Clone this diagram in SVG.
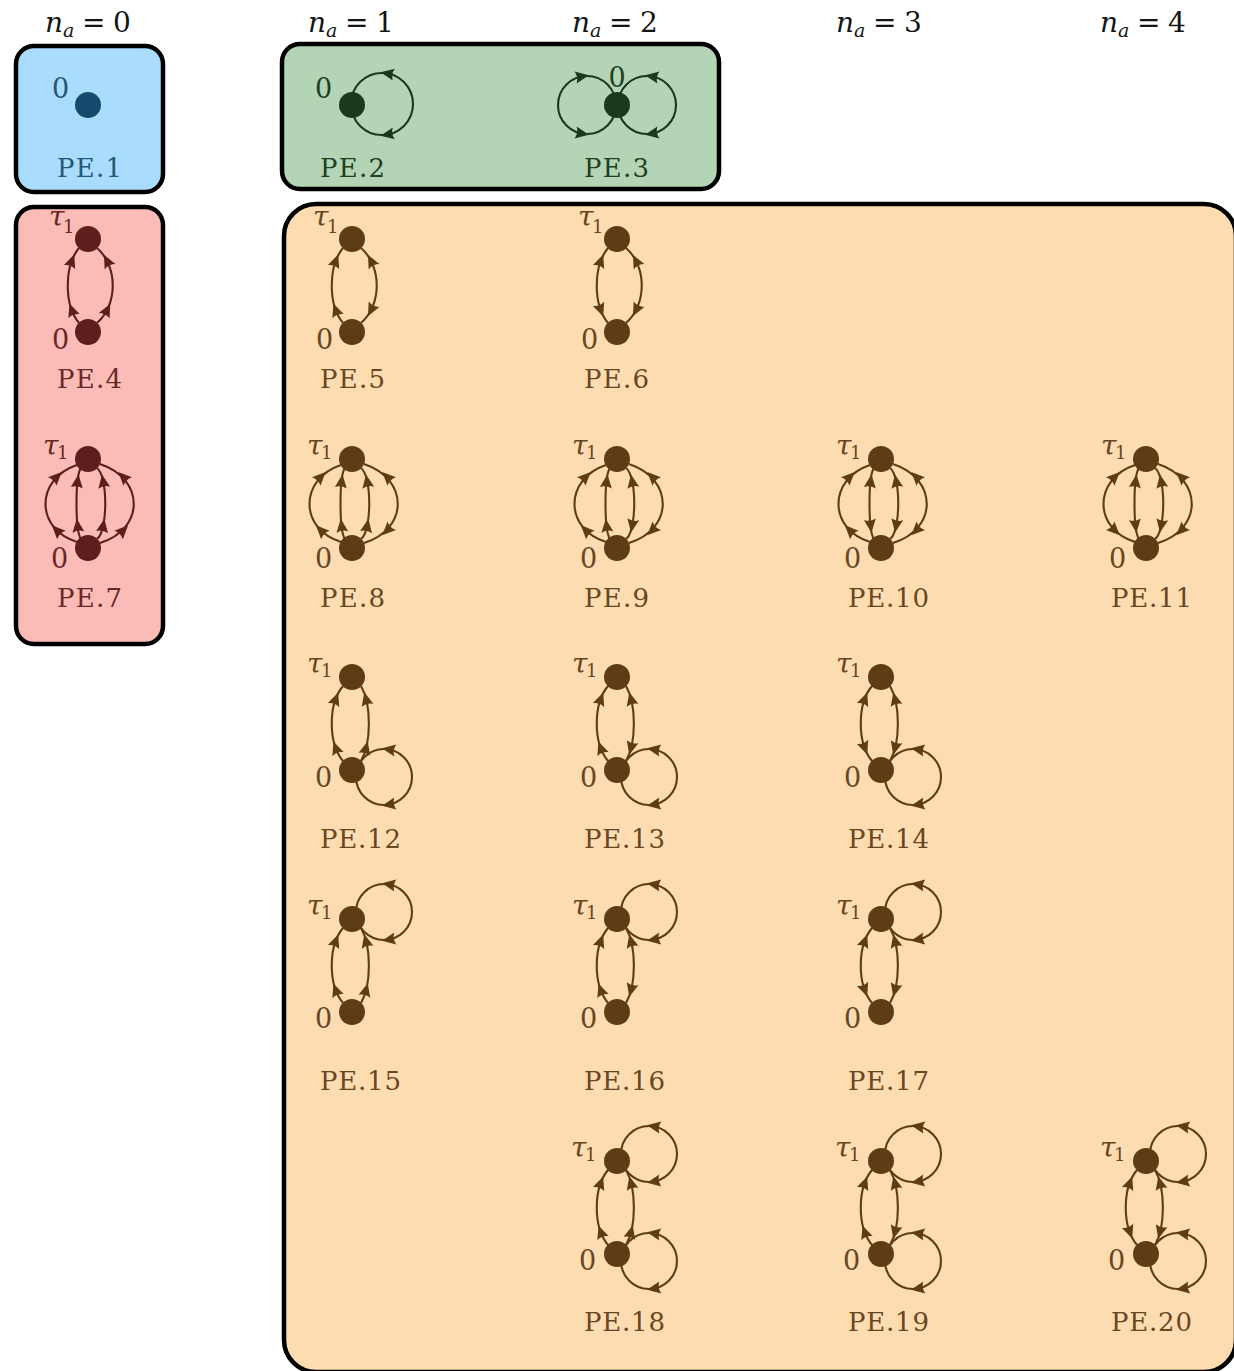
<svg xmlns="http://www.w3.org/2000/svg" xmlns:xlink="http://www.w3.org/1999/xlink" width="1234" height="1371" viewBox="0 0 1234 1371" font-family="DejaVu Serif, Liberation Serif, serif">
  <style>
    .box{stroke:#000;stroke-width:4.5}
    .edge{fill:none;stroke:currentColor;stroke-width:2.1}
    .ahd{fill:currentColor}
    .vx{fill:currentColor}
    .c-blue{color:#174b6d}
    .c-green{color:#1b3a1b}
    .c-pink{color:#5e1e1b}
    .c-org{color:#5e3c15}
    .c-blue text{fill:#255776}
    .c-green text{fill:#213f21}
    .c-pink text{fill:#682824}
    .c-org text{fill:#694622}
    text{font-family:"DejaVu Serif","Liberation Serif",serif}
    .pe{font-size:26px}
    .zero{font-size:27px}
    .tau{font-size:28px;font-style:italic}
    .s1{font-size:18px}
    .hdr text{font-size:28px;fill:#151515}
    .it{font-style:italic}
    .sub{font-size:19px}
  </style>
  <defs>
    <!-- arrowhead pointing along +x, centred on its anchor point -->
    <path id="ah" class="ahd" d="M7,0 L-6.5,-6 Q-3.5,0 -6.5,6 Z"/>

    <!-- two-edge graphs: tau1 at (0,0), 0 at (0,93) -->
    <g id="Ln"><path class="edge" d="M-9,84 C-24,66 -24,27 -9,9"/><use xlink:href="#ah" transform="translate(-16.2,71) rotate(-110)"/><use xlink:href="#ah" transform="translate(-16.2,22) rotate(-70)"/></g>
    <g id="La"><path class="edge" d="M-9,84 C-24,66 -24,27 -9,9"/><use xlink:href="#ah" transform="translate(-16.2,22) rotate(-70)"/><use xlink:href="#ah" transform="translate(-16.2,71) rotate(70)"/></g>
    <g id="R1n"><path class="edge" d="M9,84 C30,66 30,27 9,9"/><use xlink:href="#ah" transform="translate(19.1,71) rotate(-63)"/><use xlink:href="#ah" transform="translate(19.1,22) rotate(-117)"/></g>
    <g id="R1a"><path class="edge" d="M9,84 C30,66 30,27 9,9"/><use xlink:href="#ah" transform="translate(19.1,22) rotate(-117)"/><use xlink:href="#ah" transform="translate(19.1,71) rotate(117)"/></g>
    <g id="R3n"><path class="edge" d="M9,84 C19.5,66 19.5,27 9,9"/><use xlink:href="#ah" transform="translate(14,71) rotate(-76)"/><use xlink:href="#ah" transform="translate(14,22) rotate(-104)"/></g>
    <g id="R3a"><path class="edge" d="M9,84 C19.5,66 19.5,27 9,9"/><use xlink:href="#ah" transform="translate(14,22) rotate(-104)"/><use xlink:href="#ah" transform="translate(14,71) rotate(104)"/></g>
    <g id="loopT"><circle class="edge" cx="32" cy="-7" r="28"/><use xlink:href="#ah" transform="translate(36.9,-34.6) rotate(-170)"/><use xlink:href="#ah" transform="translate(36.9,20.6) rotate(170)"/></g>
    <g id="loopB"><circle class="edge" cx="32" cy="100" r="28"/><use xlink:href="#ah" transform="translate(36.9,72.4) rotate(-170)"/><use xlink:href="#ah" transform="translate(36.9,127.6) rotate(170)"/></g>

    <!-- four-edge graphs: tau1 at (0,0), 0 at (0,89) -->
    <g id="OLn"><path class="edge" d="M-11,83 C-53,70 -53,20 -11,6"/><use xlink:href="#ah" transform="translate(-31.2,71.3) rotate(-135)"/><use xlink:href="#ah" transform="translate(-31.2,18) rotate(-45)"/></g>
    <g id="OLa"><path class="edge" d="M-11,83 C-53,70 -53,20 -11,6"/><use xlink:href="#ah" transform="translate(-31.2,18) rotate(-45)"/><use xlink:href="#ah" transform="translate(-31.2,71.3) rotate(45)"/></g>
    <g id="ILn"><path class="edge" d="M-7,80 C-13,72 -13,17 -7,9"/><use xlink:href="#ah" transform="translate(-10.4,66.7) rotate(-97)"/><use xlink:href="#ah" transform="translate(-10.4,22.3) rotate(-83)"/></g>
    <g id="ILa"><path class="edge" d="M-7,80 C-13,72 -13,17 -7,9"/><use xlink:href="#ah" transform="translate(-10.4,22.3) rotate(-83)"/><use xlink:href="#ah" transform="translate(-10.4,66.7) rotate(83)"/></g>
    <g id="IRn"><path class="edge" d="M9,80 C20,72 20,17 9,9"/><use xlink:href="#ah" transform="translate(15.2,66.7) rotate(-80)"/><use xlink:href="#ah" transform="translate(15.2,22.3) rotate(-100)"/></g>
    <g id="IRa"><path class="edge" d="M9,80 C20,72 20,17 9,9"/><use xlink:href="#ah" transform="translate(15.2,22.3) rotate(-100)"/><use xlink:href="#ah" transform="translate(15.2,66.7) rotate(100)"/></g>
    <g id="ORn"><path class="edge" d="M12,84 C57,70 57,20 12,5"/><use xlink:href="#ah" transform="translate(35.2,71.3) rotate(-45)"/><use xlink:href="#ah" transform="translate(35.2,18) rotate(-135)"/></g>
    <g id="ORa"><path class="edge" d="M12,84 C57,70 57,20 12,5"/><use xlink:href="#ah" transform="translate(35.2,18) rotate(-135)"/><use xlink:href="#ah" transform="translate(35.2,71.3) rotate(135)"/></g>

    <!-- vertex pairs -->
    <g id="V2"><circle class="vx" r="13"/><circle class="vx" cy="93" r="13"/></g>
    <g id="V4"><circle class="vx" r="13"/><circle class="vx" cy="89" r="13"/></g>
  </defs>

  <!-- column headers -->
  <g id="headers" class="hdr">
    <text x="45" y="32"><tspan class="it">n</tspan><tspan class="it sub" dy="5">a</tspan><tspan x="82" dy="-5">=</tspan><tspan x="113">0</tspan></text>
    <g transform="translate(263,0)"><text x="45" y="32"><tspan class="it">n</tspan><tspan class="it sub" dy="5">a</tspan><tspan x="82" dy="-5">=</tspan><tspan x="113">1</tspan></text></g>
    <g transform="translate(527,0)"><text x="45" y="32"><tspan class="it">n</tspan><tspan class="it sub" dy="5">a</tspan><tspan x="82" dy="-5">=</tspan><tspan x="113">2</tspan></text></g>
    <g transform="translate(791,0)"><text x="45" y="32"><tspan class="it">n</tspan><tspan class="it sub" dy="5">a</tspan><tspan x="82" dy="-5">=</tspan><tspan x="113">3</tspan></text></g>
    <g transform="translate(1055,0)"><text x="45" y="32"><tspan class="it">n</tspan><tspan class="it sub" dy="5">a</tspan><tspan x="82" dy="-5">=</tspan><tspan x="113">4</tspan></text></g>
  </g>

  <!-- grouping boxes -->
  <g id="boxes">
    <rect class="box" x="16" y="46" width="147" height="146" rx="18" fill="#a9dcfd"/>
    <rect class="box" x="282" y="44" width="437" height="145" rx="18" fill="#b3d4b5"/>
    <rect class="box" x="16" y="207" width="147" height="437" rx="18" fill="#fbbcb8"/>
    <rect class="box" x="284" y="204" width="952" height="1168" rx="32" fill="#fddcb1"/>
  </g>

  <!-- PE.1 -->
  <g id="pe1" class="c-blue">
    <circle class="vx" cx="88" cy="105" r="13"/>
    <text class="zero" x="52" y="98">0</text>
    <text class="pe" x="57" y="177" textLength="65">PE.1</text>
  </g>

  <!-- PE.2 -->
  <g id="pe2" class="c-green">
    <g transform="translate(352,105)">
      <g class="connectors"><circle class="edge" cx="30" cy="-1" r="31"/><use xlink:href="#ah" transform="translate(35.4,-31.5) rotate(-170)"/><use xlink:href="#ah" transform="translate(35.4,29.5) rotate(170)"/></g>
      <circle class="vx" r="13"/>
      <text class="zero" x="-37" y="-7">0</text>
    </g>
    <text class="pe" x="320" y="177" textLength="65">PE.2</text>
  </g>

  <!-- PE.3 -->
  <g id="pe3" class="c-green">
    <g transform="translate(617,105)">
      <g class="connectors">
        <circle class="edge" cx="30" cy="0" r="29"/><use xlink:href="#ah" transform="translate(35,-28.6) rotate(-170)"/><use xlink:href="#ah" transform="translate(35,28.6) rotate(170)"/>
        <circle class="edge" cx="-30" cy="0" r="29"/><use xlink:href="#ah" transform="translate(-35,-28.6) rotate(-10)"/><use xlink:href="#ah" transform="translate(-35,28.6) rotate(10)"/>
      </g>
      <circle class="vx" r="13"/>
      <text class="zero" x="0" y="-18" text-anchor="middle">0</text>
    </g>
    <text class="pe" x="584" y="177" textLength="65">PE.3</text>
  </g>

  <!-- row 1 -->
  <g id="pe4" class="c-pink">
    <g transform="translate(88,239)">
      <g class="connectors"><use xlink:href="#Ln"/><use xlink:href="#R1n"/></g>
      <use xlink:href="#V2"/>
      <text class="tau" x="-39" y="-13">τ</text><text class="s1" x="-25" y="-6">1</text>
      <text class="zero" x="-36" y="110">0</text>
    </g>
    <text class="pe" x="57" y="388" textLength="65">PE.4</text>
  </g>
  <g id="pe5" class="c-org">
    <g transform="translate(352,239)">
      <g class="connectors"><use xlink:href="#Ln"/><use xlink:href="#R1a"/></g>
      <use xlink:href="#V2"/>
      <text class="tau" x="-39" y="-13">τ</text><text class="s1" x="-25" y="-6">1</text>
      <text class="zero" x="-36" y="110">0</text>
    </g>
    <text class="pe" x="320" y="388" textLength="65">PE.5</text>
  </g>
  <g id="pe6" class="c-org">
    <g transform="translate(617,239)">
      <g class="connectors"><use xlink:href="#La"/><use xlink:href="#R1a"/></g>
      <use xlink:href="#V2"/>
      <text class="tau" x="-39" y="-13">τ</text><text class="s1" x="-25" y="-6">1</text>
      <text class="zero" x="-36" y="110">0</text>
    </g>
    <text class="pe" x="584" y="388" textLength="65">PE.6</text>
  </g>

  <!-- row 2 -->
  <g id="pe7" class="c-pink">
    <g transform="translate(88,459)">
      <g class="connectors"><use xlink:href="#OLn"/><use xlink:href="#ILn"/><use xlink:href="#IRn"/><use xlink:href="#ORn"/></g>
      <use xlink:href="#V4"/>
      <text class="tau" x="-45" y="-4">τ</text><text class="s1" x="-31" y="0">1</text>
      <text class="zero" x="-37" y="109">0</text>
    </g>
    <text class="pe" x="57" y="607" textLength="65">PE.7</text>
  </g>
  <g id="pe8" class="c-org">
    <g transform="translate(352,459)">
      <g class="connectors"><use xlink:href="#OLn"/><use xlink:href="#ILn"/><use xlink:href="#IRn"/><use xlink:href="#ORa"/></g>
      <use xlink:href="#V4"/>
      <text class="tau" x="-45" y="-4">τ</text><text class="s1" x="-31" y="0">1</text>
      <text class="zero" x="-37" y="109">0</text>
    </g>
    <text class="pe" x="320" y="607" textLength="65">PE.8</text>
  </g>
  <g id="pe9" class="c-org">
    <g transform="translate(617,459)">
      <g class="connectors"><use xlink:href="#OLn"/><use xlink:href="#ILn"/><use xlink:href="#IRa"/><use xlink:href="#ORa"/></g>
      <use xlink:href="#V4"/>
      <text class="tau" x="-45" y="-4">τ</text><text class="s1" x="-31" y="0">1</text>
      <text class="zero" x="-37" y="109">0</text>
    </g>
    <text class="pe" x="584" y="607" textLength="65">PE.9</text>
  </g>
  <g id="pe10" class="c-org">
    <g transform="translate(881,459)">
      <g class="connectors"><use xlink:href="#OLn"/><use xlink:href="#ILa"/><use xlink:href="#IRa"/><use xlink:href="#ORa"/></g>
      <use xlink:href="#V4"/>
      <text class="tau" x="-45" y="-4">τ</text><text class="s1" x="-31" y="0">1</text>
      <text class="zero" x="-37" y="109">0</text>
    </g>
    <text class="pe" x="848" y="607" textLength="81">PE.10</text>
  </g>
  <g id="pe11" class="c-org">
    <g transform="translate(1146,459)">
      <g class="connectors"><use xlink:href="#OLa"/><use xlink:href="#ILa"/><use xlink:href="#IRa"/><use xlink:href="#ORa"/></g>
      <use xlink:href="#V4"/>
      <text class="tau" x="-45" y="-4">τ</text><text class="s1" x="-31" y="0">1</text>
      <text class="zero" x="-37" y="109">0</text>
    </g>
    <text class="pe" x="1111" y="607" textLength="81">PE.11</text>
  </g>

  <!-- row 3 -->
  <g id="pe12" class="c-org">
    <g transform="translate(352,677)">
      <g class="connectors"><use xlink:href="#Ln"/><use xlink:href="#R3n"/><use xlink:href="#loopB"/></g>
      <use xlink:href="#V2"/>
      <text class="tau" x="-45" y="-4">τ</text><text class="s1" x="-31" y="0">1</text>
      <text class="zero" x="-37" y="110">0</text>
    </g>
    <text class="pe" x="320" y="848" textLength="81">PE.12</text>
  </g>
  <g id="pe13" class="c-org">
    <g transform="translate(617,677)">
      <g class="connectors"><use xlink:href="#Ln"/><use xlink:href="#R3a"/><use xlink:href="#loopB"/></g>
      <use xlink:href="#V2"/>
      <text class="tau" x="-45" y="-4">τ</text><text class="s1" x="-31" y="0">1</text>
      <text class="zero" x="-37" y="110">0</text>
    </g>
    <text class="pe" x="584" y="848" textLength="81">PE.13</text>
  </g>
  <g id="pe14" class="c-org">
    <g transform="translate(881,677)">
      <g class="connectors"><use xlink:href="#La"/><use xlink:href="#R3a"/><use xlink:href="#loopB"/></g>
      <use xlink:href="#V2"/>
      <text class="tau" x="-45" y="-4">τ</text><text class="s1" x="-31" y="0">1</text>
      <text class="zero" x="-37" y="110">0</text>
    </g>
    <text class="pe" x="848" y="848" textLength="81">PE.14</text>
  </g>

  <!-- row 4 -->
  <g id="pe15" class="c-org">
    <g transform="translate(352,919)">
      <g class="connectors"><use xlink:href="#Ln"/><use xlink:href="#R3n"/><use xlink:href="#loopT"/></g>
      <use xlink:href="#V2"/>
      <text class="tau" x="-45" y="-4">τ</text><text class="s1" x="-31" y="0">1</text>
      <text class="zero" x="-37" y="109">0</text>
    </g>
    <text class="pe" x="320" y="1090" textLength="81">PE.15</text>
  </g>
  <g id="pe16" class="c-org">
    <g transform="translate(617,919)">
      <g class="connectors"><use xlink:href="#Ln"/><use xlink:href="#R3a"/><use xlink:href="#loopT"/></g>
      <use xlink:href="#V2"/>
      <text class="tau" x="-45" y="-4">τ</text><text class="s1" x="-31" y="0">1</text>
      <text class="zero" x="-37" y="109">0</text>
    </g>
    <text class="pe" x="584" y="1090" textLength="81">PE.16</text>
  </g>
  <g id="pe17" class="c-org">
    <g transform="translate(881,919)">
      <g class="connectors"><use xlink:href="#La"/><use xlink:href="#R3a"/><use xlink:href="#loopT"/></g>
      <use xlink:href="#V2"/>
      <text class="tau" x="-45" y="-4">τ</text><text class="s1" x="-31" y="0">1</text>
      <text class="zero" x="-37" y="109">0</text>
    </g>
    <text class="pe" x="848" y="1090" textLength="81">PE.17</text>
  </g>

  <!-- row 5 -->
  <g id="pe18" class="c-org">
    <g transform="translate(617,1161)">
      <g class="connectors"><use xlink:href="#Ln"/><use xlink:href="#R3n"/><use xlink:href="#loopT"/><use xlink:href="#loopB"/></g>
      <use xlink:href="#V2"/>
      <text class="tau" x="-46" y="-4">τ</text><text class="s1" x="-32" y="0">1</text>
      <text class="zero" x="-38" y="109">0</text>
    </g>
    <text class="pe" x="584" y="1331" textLength="81">PE.18</text>
  </g>
  <g id="pe19" class="c-org">
    <g transform="translate(881,1161)">
      <g class="connectors"><use xlink:href="#Ln"/><use xlink:href="#R3a"/><use xlink:href="#loopT"/><use xlink:href="#loopB"/></g>
      <use xlink:href="#V2"/>
      <text class="tau" x="-46" y="-4">τ</text><text class="s1" x="-32" y="0">1</text>
      <text class="zero" x="-38" y="109">0</text>
    </g>
    <text class="pe" x="848" y="1331" textLength="81">PE.19</text>
  </g>
  <g id="pe20" class="c-org">
    <g transform="translate(1146,1161)">
      <g class="connectors"><use xlink:href="#La"/><use xlink:href="#R3a"/><use xlink:href="#loopT"/><use xlink:href="#loopB"/></g>
      <use xlink:href="#V2"/>
      <text class="tau" x="-46" y="-4">τ</text><text class="s1" x="-32" y="0">1</text>
      <text class="zero" x="-38" y="109">0</text>
    </g>
    <text class="pe" x="1111" y="1331" textLength="81">PE.20</text>
  </g>
</svg>
